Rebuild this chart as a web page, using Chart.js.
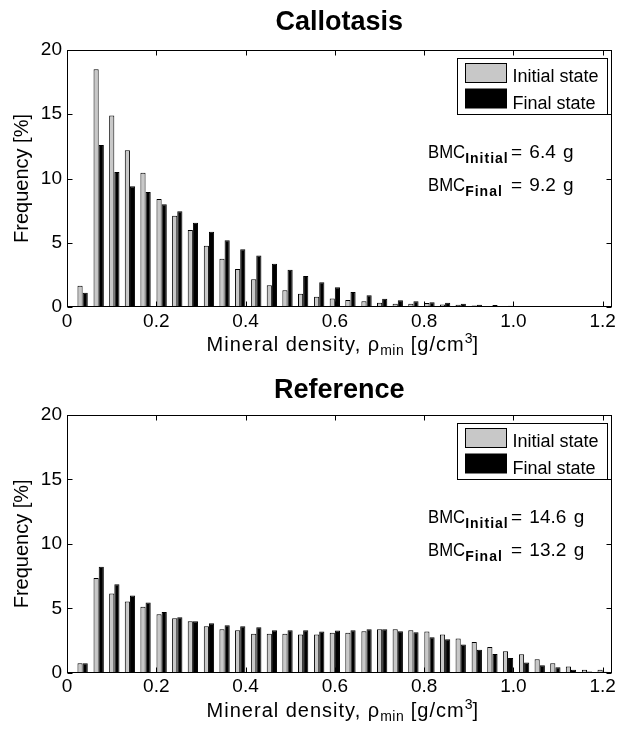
<!DOCTYPE html>
<html><head><meta charset="utf-8">
<script src="https://cdn.jsdelivr.net/npm/chart.js@4.4.0/dist/chart.umd.min.js"></script>
<style>
html,body{margin:0;padding:0;background:#fff;}
#wrap{position:relative;width:619px;height:736px;overflow:hidden;}
canvas{position:absolute;left:0;}
</style></head><body>
<div id="wrap">
<canvas id="c1" width="619" height="368" style="top:0"></canvas>
<canvas id="c2" width="619" height="368" style="top:368px"></canvas>
</div>
<script>
// ---- data ----
const binCenters = [0.035,0.071,0.106,0.141,0.176,0.212,0.247,0.282,0.318,0.353,0.388,0.424,0.459,0.494,0.529,0.565,0.600,0.635,0.671,0.706,0.741,0.776,0.812,0.847,0.882,0.918,0.953,0.988,1.024,1.059,1.094,1.129,1.165,1.200];
const callotasisInitial = [1.66,18.5,14.9,12.2,10.45,8.4,7.1,6.0,4.77,3.76,2.96,2.15,1.69,1.3,1.04,0.8,0.66,0.54,0.44,0.34,0.26,0.26,0.32,0.2,0.18,0.12,0.08,0.06,0.05,0.04,0.04,0.04,0.04,0.04];
const callotasisFinal   = [1.1,12.6,10.5,9.4,8.95,8.0,7.45,6.56,5.86,5.2,4.49,4.0,3.37,2.9,2.41,1.92,1.53,1.17,0.91,0.65,0.52,0.44,0.36,0.34,0.26,0.18,0.15,0.1,0.06,0.05,0.05,0.05,0.05,0.05];
const referenceInitial  = [0.73,7.34,6.15,5.53,5.11,4.54,4.23,4.0,3.6,3.37,3.29,3.03,3.03,3.03,2.96,2.96,3.11,3.11,3.22,3.37,3.37,3.29,3.19,2.96,2.65,2.39,2.0,1.66,1.43,1.04,0.73,0.49,0.23,0.23];
const referenceFinal    = [0.73,8.22,6.87,5.99,5.45,4.72,4.31,4.0,3.84,3.68,3.6,3.53,3.29,3.29,3.29,3.19,3.27,3.29,3.37,3.37,3.22,3.14,2.75,2.59,2.18,1.79,1.45,1.14,0.8,0.57,0.42,0.23,0.1,0.08];
const xTickValues = [0,0.2,0.4,0.6,0.8,1,1.2];
const yTickValues = [0,5,10,15,20];
const seriesLabels = ['Initial state','Final state'];
const callotasisBMC = ['6.4','9.2'];
const referenceBMC = ['14.6','13.2'];

const FF = '"Liberation Sans", Arial, Helvetica, sans-serif';

function drawParts(ctx, x, y, parts, measureOnly) {
  let w = 0;
  for (const p of parts) {
    ctx.font = p.font;
    try { ctx.letterSpacing = p.ls || '0px'; } catch(e) {}
    const sx = p.sx || 1;
    if (!measureOnly) {
      ctx.save();
      ctx.translate(x + w, y + (p.dy || 0));
      ctx.scale(sx, 1);
      ctx.fillText(p.t, 0, 0);
      ctx.restore();
    }
    w += ctx.measureText(p.t).width * sx;
  }
  try { ctx.letterSpacing = '0px'; } catch(e) {}
  return w;
}

const frameTicks = {
  id: 'frameTicks',
  afterDatasetsDraw(chart) {
    const {ctx, chartArea: a, scales: {x, y}} = chart;
    ctx.save();
    ctx.strokeStyle = '#000'; ctx.lineWidth = 1;
    const L = Math.round(a.left) + 0.5, R = Math.round(a.right) - 0.5;
    const T = Math.round(a.top) + 0.5, B = Math.round(a.bottom) - 0.5;
    ctx.strokeRect(L, T, R - L, B - T);
    ctx.beginPath();
    x.ticks.forEach(t => {
      const px = Math.round(x.getPixelForValue(t.value)) + 0.5;
      ctx.moveTo(px, B); ctx.lineTo(px, B - 5);
      ctx.moveTo(px, T); ctx.lineTo(px, T + 5);
    });
    y.ticks.forEach(t => {
      const py = Math.round(y.getPixelForValue(t.value)) + 0.5;
      ctx.moveTo(L, py); ctx.lineTo(L + 5, py);
      ctx.moveTo(R, py); ctx.lineTo(R - 5, py);
    });
    ctx.stroke();
    ctx.restore();
  }
};

const figText = {
  id: 'figText',
  afterDraw(chart, args, opts) {
    const {ctx, chartArea: a} = chart;
    ctx.save();
    ctx.fillStyle = '#000';
    ctx.textBaseline = 'alphabetic';
    ctx.textAlign = 'left';
    // legend
    const lw = 150, lh = 56;
    const lx = Math.round(a.right) - 5 - lw + 0.5, ly = Math.round(a.top) + 8 + 0.5;
    ctx.fillStyle = '#fff';
    ctx.fillRect(lx, ly, lw, lh);
    ctx.strokeStyle = '#000'; ctx.lineWidth = 1;
    ctx.strokeRect(lx, ly, lw, lh);
    chart.data.datasets.forEach((ds, i) => {
      const sy = ly + 5 + i * 25.5;
      ctx.fillStyle = ds.backgroundColor;
      ctx.fillRect(lx + 8, sy, 41, 19);
      ctx.strokeRect(lx + 8, sy, 41, 19);
      ctx.fillStyle = '#000';
      ctx.font = '18px ' + FF;
      ctx.fillText(ds.label, lx + 55, ly + 23 + i * 27);
    });
    // BMC texts
    const bx = a.left + 361;
    const subs = ['Initial', 'Final'];
    opts.bmc.forEach((v, i) => {
      const by = a.top + 108 + i * 33;
      drawParts(ctx, bx, by, [
        {t: 'BMC', font: '19px ' + FF, sx: 0.88},
        {t: subs[i], font: 'bold 14px ' + FF, dy: 5, ls: '1px'}
      ]);
      ctx.font = '19px ' + FF;
      try { ctx.wordSpacing = '2px'; } catch(e) {}
      ctx.fillText('= ' + v + ' g', bx + 83, by);
      try { ctx.wordSpacing = '0px'; } catch(e) {}
    });
    // x axis title
    const parts = [
      {t: 'Mineral density, \u03C1', font: '20px ' + FF, ls: '1px'},
      {t: 'min', font: '14px ' + FF, dy: 4, ls: '0.5px'},
      {t: ' [g/cm', font: '20px ' + FF, ls: '1px'},
      {t: '3', font: '14px ' + FF, dy: -8},
      {t: ']', font: '20px ' + FF}
    ];
    const tw = drawParts(ctx, 0, 0, parts, true);
    drawParts(ctx, (a.left + a.right) / 2 + 3 - tw / 2, a.bottom + 44, parts);
    ctx.restore();
  }
};

function makeChart(id, title, initVals, finalVals, bmc, L) {
  return new Chart(document.getElementById(id), {
    type: 'bar',
    data: {
      labels: binCenters,
      datasets: [
        {label: seriesLabels[0], data: binCenters.map((c, i) => ({x: c, y: initVals[i]})),
         backgroundColor: '#c8c8c8', borderColor: '#000', borderWidth: 1},
        {label: seriesLabels[1], data: binCenters.map((c, i) => ({x: c, y: finalVals[i]})),
         backgroundColor: '#000000', borderColor: '#000', borderWidth: 1}
      ]
    },
    options: {
      responsive: false, animation: false, devicePixelRatio: 1,
      categoryPercentage: 0.66, barPercentage: 1.0,
      layout: {padding: {left: 0, right: 5.5, top: 0, bottom: 0}},
      plugins: {
        legend: {display: false},
        tooltip: {enabled: false},
        title: {display: true, text: title, fullSize: false, color: '#000',
                font: {family: FF, size: 27, weight: 'bold'},
                padding: {top: L.tpt, bottom: L.tpb}},
        figText: {bmc: bmc}
      },
      scales: {
        x: {
          type: 'linear', min: 0, max: 1.22, offset: false,
          afterBuildTicks: s => { s.ticks = xTickValues.map(v => ({value: v})); },
          afterFit: s => { s.height = L.xh; },
          grid: {display: false, drawTicks: false},
          border: {display: false},
          ticks: {color: '#000', padding: 3, maxRotation: 0, autoSkip: false,
                  font: {family: FF, size: 19}}
        },
        y: {
          min: 0, max: 20,
          afterBuildTicks: s => { s.ticks = yTickValues.map(v => ({value: v})); },
          afterFit: s => { s.width = 67; },
          grid: {display: false, drawTicks: false},
          border: {display: false},
          ticks: {color: '#000', padding: 5, font: {family: FF, size: 19}},
          title: {display: true, text: 'Frequency [%]', color: '#000',
                  font: {family: FF, size: 20}, padding: {top: 10, bottom: 0}}
        }
      }
    },
    plugins: [frameTicks, figText]
  });
}

makeChart('c1', 'Callotasis', callotasisInitial, callotasisFinal, callotasisBMC, {tpt: 6, tpb: 11.6, xh: 61});
makeChart('c2', 'Reference', referenceInitial, referenceFinal, referenceBMC, {tpt: 6, tpb: 8.6, xh: 63.3});
</script>
</body></html>
